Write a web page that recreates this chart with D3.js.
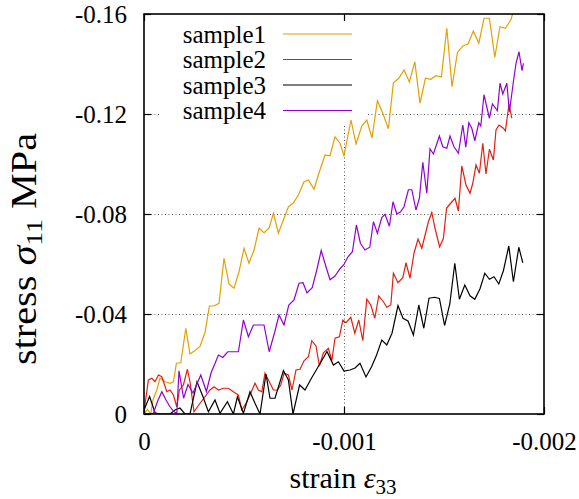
<!DOCTYPE html>
<html>
<head>
<meta charset="utf-8">
<script src="https://cdn.jsdelivr.net/npm/d3@7"></script>
<style>
  html, body { margin: 0; padding: 0; background: #fff; }
  svg { display: block; font-family: 'Liberation Serif', 'Times New Roman', serif; }
</style>
</head>
<body>
<svg id="chart" width="579" height="499"></svg>
<script>
'use strict';

// ---- data (strain, stress in MPa) ----
var seriesNames = ['sample1', 'sample2', 'sample3', 'sample4'];
var seriesColors = ['#e69f00', '#e51e10', '#000000', '#9400d3'];

var xTicks = [0, -0.001, -0.002];
var xTickLabels = ['0', '-0.001', '-0.002'];
var yTicks = [0, -0.04, -0.08, -0.12, -0.16];
var yTickLabels = ['0', '-0.04', '-0.08', '-0.12', '-0.16'];

var sample1Strain = [0, -0.000017, -0.000034, -0.000045, -0.000064, -0.00008, -0.000105, -0.00013,
  -0.000147, -0.000162, -0.000184, -0.000209, -0.00023, -0.000255, -0.00028, -0.000305, -0.000327,
  -0.00035, -0.000375, -0.0004, -0.000425, -0.00045, -0.000475, -0.0005, -0.000525, -0.00055,
  -0.000575, -0.0006, -0.000625, -0.000647, -0.000672, -0.0007, -0.000722, -0.000747, -0.000772,
  -0.0008, -0.000822, -0.00085, -0.000877, -0.000905, -0.00093, -0.000955, -0.00098, -0.001,
  -0.001035, -0.00106, -0.001089, -0.001114, -0.00114, -0.001167, -0.001194, -0.001222, -0.001247,
  -0.001274, -0.0013, -0.001327, -0.001354, -0.00138, -0.001407, -0.001434, -0.00146, -0.001487,
  -0.001514, -0.00154, -0.001567, -0.001594, -0.00162, -0.001647, -0.001674, -0.0017, -0.001727,
  -0.001754, -0.00178, -0.001807, -0.001834, -0.001855];
var sample1Stress = [0, -0.0019, 0, -0.0056, -0.0096, -0.0144, -0.0129, -0.0123, -0.0129, -0.0203,
  -0.0205, -0.0343, -0.024, -0.0254, -0.027, -0.0326, -0.0432, -0.0432, -0.0443, -0.0623, -0.052,
  -0.0503, -0.0569, -0.0663, -0.0603, -0.0656, -0.0743, -0.0725, -0.0743, -0.0803, -0.0723, -0.0783,
  -0.0829, -0.0845, -0.0876, -0.0929, -0.0936, -0.0899, -0.0969, -0.1036, -0.1033, -0.1109, -0.1083,
  -0.1034, -0.1176, -0.108, -0.1152, -0.1176, -0.1104, -0.1253, -0.1203, -0.1141, -0.1325, -0.1343,
  -0.1376, -0.1328, -0.1409, -0.1243, -0.1343, -0.1339, -0.1353, -0.1349, -0.1543, -0.1309, -0.1445,
  -0.1472, -0.148, -0.1532, -0.1483, -0.1583, -0.1583, -0.1427, -0.1549, -0.1543, -0.1576, -0.1632];

var sample2Strain = [0, -0.000022, -0.000039, -0.000055, -0.000072, -0.000089, -0.0001, -0.000114,
  -0.00013, -0.000147, -0.000164, -0.000177, -0.000197, -0.000217, -0.00023, -0.00025, -0.00028,
  -0.000305, -0.00033, -0.00035, -0.000372, -0.000397, -0.000422, -0.000447, -0.000472, -0.000489,
  -0.00051, -0.00053, -0.000555, -0.000572, -0.000589, -0.000605, -0.000622, -0.000647, -0.000667,
  -0.000684, -0.0007, -0.000722, -0.00074, -0.00076, -0.00078, -0.0008, -0.000822, -0.000839,
  -0.00086, -0.000877, -0.000897, -0.000922, -0.000939, -0.000955, -0.000977, -0.000994, -0.00101,
  -0.001034, -0.001054, -0.001074, -0.001094, -0.001114, -0.001134, -0.001154, -0.001174, -0.001197,
  -0.001214, -0.001234, -0.001247, -0.00127, -0.001294, -0.00131, -0.00133, -0.00135, -0.00137,
  -0.001389, -0.001422, -0.001439, -0.001455, -0.001478, -0.001497, -0.001513, -0.00153, -0.001555,
  -0.001572, -0.001589, -0.00161, -0.00163, -0.001644, -0.00166, -0.001677, -0.001694, -0.00171,
  -0.001727, -0.001747, -0.00176, -0.001775, -0.001797, -0.001807, -0.001825, -0.001839];
var sample2Stress = [-0.0009, -0.0136, -0.0143, -0.0129, -0.0156, -0.0149, -0.0123, -0.0089, -0.0096,
  -0.0076, -0.0029, -0.0096, -0.0116, -0.0179, -0.0129, -0.0009, -0.0043, -0.0069, -0.0096, -0.0109,
  -0.0096, -0.0103, -0.0103, -0.0089, -0.0076, -0.0016, -0.0043, -0.0076, -0.0123, -0.0096, -0.0089,
  -0.0163, -0.0136, -0.0096, -0.0096, -0.0116, -0.0163, -0.0156, -0.0096, -0.0176, -0.0179, -0.0213,
  -0.0229, -0.0293, -0.0272, -0.0192, -0.0245, -0.0263, -0.0213, -0.0303, -0.0309, -0.0376, -0.0365,
  -0.0387, -0.0323, -0.0376, -0.0293, -0.0459, -0.0436, -0.0383, -0.0472, -0.0449, -0.0427, -0.0436,
  -0.0563, -0.0525, -0.0545, -0.0605, -0.0543, -0.0643, -0.07, -0.0663, -0.0769, -0.0806, -0.0743,
  -0.0668, -0.0703, -0.0824, -0.084, -0.0863, -0.0812, -0.0992, -0.0916, -0.0883, -0.0923, -0.0996,
  -0.0963, -0.1083, -0.096, -0.1059, -0.1016, -0.1136, -0.1156, -0.1143, -0.1132, -0.1239, -0.1183];

var sample3Strain = [0, -0.000028, -0.000055, -0.00008, -0.000105, -0.00013, -0.000155, -0.00018,
  -0.000205, -0.00023, -0.000265, -0.000295, -0.000322, -0.000355, -0.00038, -0.000417, -0.000447,
  -0.000467, -0.000497, -0.00053, -0.000555, -0.00058, -0.00061, -0.00063, -0.000655, -0.000697,
  -0.000722, -0.000745, -0.000778, -0.000805, -0.000835, -0.000873, -0.000915, -0.000947, -0.000972,
  -0.001, -0.00103, -0.001055, -0.00108, -0.00111, -0.001139, -0.001163, -0.001189, -0.001214,
  -0.00124, -0.00127, -0.001295, -0.00132, -0.001347, -0.001374, -0.001399, -0.001425, -0.001453,
  -0.001477, -0.001503, -0.001529, -0.001554, -0.001577, -0.001604, -0.00163, -0.001654, -0.00168,
  -0.001704, -0.001727, -0.00175, -0.001774, -0.001797, -0.001824, -0.001847, -0.001874, -0.001894];
var sample3Stress = [-0.0016, -0.007, -0.0005, 0, 0, 0, -0.0016, -0.0024, 0, 0, -0.0129, -0.0069,
  -0.0009, -0.0056, -0.0003, -0.0049, 0, -0.0069, -0.0003, -0.0089, -0.0043, 0, -0.016, -0.0063,
  -0.0063, -0.0174, -0.0136, 0, -0.0116, -0.0096, -0.014, -0.0192, -0.025, -0.0196, -0.0209, -0.0172,
  -0.0176, -0.0184, -0.0203, -0.0148, -0.0191, -0.0236, -0.0296, -0.0276, -0.0323, -0.0434, -0.0383,
  -0.0372, -0.0316, -0.0436, -0.0343, -0.0463, -0.0467, -0.0462, -0.0354, -0.044, -0.0603, -0.0459,
  -0.0516, -0.0473, -0.0459, -0.0501, -0.0563, -0.0539, -0.0549, -0.052, -0.0573, -0.0672, -0.0529,
  -0.0667, -0.0605];

var sample4Strain = [0, -0.000047, -0.000067, -0.000089, -0.00011, -0.00013, -0.00015, -0.000164,
  -0.000175, -0.000198, -0.00022, -0.000245, -0.000284, -0.000312, -0.000335, -0.000358, -0.000372,
  -0.000394, -0.000419, -0.000447, -0.000472, -0.000497, -0.000522, -0.000547, -0.000577, -0.0006,
  -0.000626, -0.000653, -0.000675, -0.0007, -0.000724, -0.00075, -0.000775, -0.000795, -0.000815,
  -0.000841, -0.000864, -0.000886, -0.00091, -0.00093, -0.000955, -0.00098, -0.001, -0.00102,
  -0.001042, -0.001062, -0.001082, -0.001105, -0.001129, -0.001147, -0.001167, -0.001189, -0.001205,
  -0.001227, -0.001245, -0.001264, -0.001283, -0.0013, -0.001322, -0.001339, -0.00136, -0.001377,
  -0.001394, -0.001414, -0.00143, -0.001447, -0.001477, -0.001494, -0.001514, -0.00153, -0.00155,
  -0.001572, -0.001594, -0.001609, -0.001624, -0.001639, -0.001654, -0.001674, -0.001684, -0.0017,
  -0.001727, -0.001742, -0.001767, -0.00178, -0.001794, -0.001814, -0.001827, -0.001847, -0.00186,
  -0.001875, -0.00189, -0.001897];
var sample4Stress = [0, -0.0003, -0.0049, -0.0089, -0.0056, -0.0029, -0.0009, -0.0003, -0.0173,
  -0.0063, -0.0118, -0.0084, -0.0156, -0.009, -0.0164, -0.0208, -0.0236, -0.0226, -0.0249, -0.0249,
  -0.0249, -0.0376, -0.0309, -0.0356, -0.0356, -0.0356, -0.0249, -0.0326, -0.0396, -0.0356, -0.0436,
  -0.0456, -0.0523, -0.0525, -0.0484, -0.0505, -0.0576, -0.0654, -0.0589, -0.0537, -0.0552, -0.0581,
  -0.0598, -0.0629, -0.0649, -0.0756, -0.0683, -0.0656, -0.0667, -0.0769, -0.0723, -0.0786, -0.0799,
  -0.0751, -0.0849, -0.08, -0.0809, -0.0829, -0.0897, -0.0897, -0.0816, -0.0863, -0.1007, -0.0883,
  -0.1061, -0.104, -0.1112, -0.1069, -0.1063, -0.1112, -0.1069, -0.1043, -0.1156, -0.1067, -0.1165,
  -0.1143, -0.1093, -0.1165, -0.1152, -0.1277, -0.1183, -0.124, -0.1213, -0.1323, -0.128, -0.1323,
  -0.1209, -0.1329, -0.1403, -0.1449, -0.1373, -0.1403];

var seriesStrain = [sample1Strain, sample2Strain, sample3Strain, sample4Strain];
var seriesStress = [sample1Stress, sample2Stress, sample3Stress, sample4Stress];

// ---- layout ----
var plot = { left: 144, right: 544, top: 14, bottom: 414 };
var tickLen = 7;
var tickFont = 25;
var serif = "'Liberation Serif', 'Times New Roman', serif";

var svg = d3.select('#chart');

var x = d3.scaleLinear().domain([0, -0.002]).range([plot.left, plot.right]);
var y = d3.scaleLinear().domain([0, -0.16]).range([plot.bottom, plot.top]);

svg.append('defs').append('clipPath').attr('id', 'plot-clip')
  .append('rect')
  .attr('x', plot.left).attr('y', plot.top)
  .attr('width', plot.right - plot.left).attr('height', plot.bottom - plot.top);

/**
 * Dotted grid at the inner ticks only (the outer ones sit on the frame).
 */
var grid = svg.append('g').attr('class', 'grid')
  .attr('stroke', '#555').attr('stroke-width', 1).attr('stroke-dasharray', '1,2.5');

grid.selectAll('.gy').data(yTicks.slice(1, -1)).enter().append('line')
  .attr('x1', plot.left).attr('x2', plot.right)
  .attr('y1', function (d) { return y(d) + 0.5; })
  .attr('y2', function (d) { return y(d) + 0.5; });

grid.selectAll('.gx').data(xTicks.slice(1, -1)).enter().append('line')
  .attr('y1', plot.top).attr('y2', plot.bottom)
  .attr('x1', function (d) { return x(d) + 0.5; })
  .attr('x2', function (d) { return x(d) + 0.5; });

// opaque key background (hides the grid behind the legend)
svg.append('rect')
  .attr('x', 159).attr('y', plot.top + 1)
  .attr('width', 207).attr('height', 110)
  .attr('fill', '#fff');

/**
 * One polyline per sample.
 */
var line = d3.line()
  .x(function (d) { return x(d[0]); })
  .y(function (d) { return y(d[1]); });

var lines = svg.append('g').attr('clip-path', 'url(#plot-clip)');

seriesNames.forEach(function (name, i) {
  var pts = seriesStrain[i].map(function (s, j) {
    return [s, seriesStress[i][j]];
  });

  lines.append('path')
    .attr('class', name)
    .attr('d', line(pts))
    .attr('fill', 'none')
    .attr('stroke', seriesColors[i])
    .attr('stroke-width', 1.2)
    .attr('stroke-linejoin', 'miter');
});

/**
 * Axes: inward ticks on all four sides, labels left and bottom.
 */
function styleAxis(g) {
  g.attr('font-family', serif);
  g.select('.domain').remove();
  g.selectAll('.tick line').attr('stroke', '#000').attr('stroke-width', 1.2);
  g.selectAll('.tick text')
    .attr('fill', '#000')
    .attr('font-size', tickFont);
}

svg.append('g')
  .attr('transform', 'translate(' + plot.left + ',0)')
  .call(d3.axisLeft(y).tickValues(yTicks).tickSizeInner(-tickLen).tickSizeOuter(0).tickPadding(17)
    .tickFormat(function (d, i) { return yTickLabels[i]; }))
  .call(styleAxis);

svg.append('g')
  .attr('transform', 'translate(' + plot.right + ',0)')
  .call(d3.axisRight(y).tickValues(yTicks).tickSizeInner(-tickLen).tickSizeOuter(0).tickFormat(''))
  .call(styleAxis);

svg.append('g')
  .attr('transform', 'translate(0,' + plot.bottom + ')')
  .call(d3.axisBottom(x).tickValues(xTicks).tickSizeInner(-tickLen).tickSizeOuter(0).tickPadding(18)
    .tickFormat(function (d, i) { return xTickLabels[i]; }))
  .call(styleAxis);

svg.append('g')
  .attr('transform', 'translate(0,' + plot.top + ')')
  .call(d3.axisTop(x).tickValues(xTicks).tickSizeInner(-tickLen).tickSizeOuter(0).tickFormat(''))
  .call(styleAxis);

// frame
svg.append('rect')
  .attr('x', plot.left).attr('y', plot.top)
  .attr('width', plot.right - plot.left).attr('height', plot.bottom - plot.top)
  .attr('fill', 'none').attr('stroke', '#000').attr('stroke-width', 1.6);

/**
 * Legend: right-aligned names with a short sample line.
 */
var legend = svg.append('g').attr('class', 'legend').attr('font-family', serif);

seriesNames.forEach(function (name, i) {
  var ly = 34 + i * 25.5;

  legend.append('text')
    .attr('x', 266).attr('y', ly + 8.5)
    .attr('text-anchor', 'end')
    .attr('font-size', tickFont)
    .text(name);

  legend.append('line')
    .attr('x1', 283).attr('x2', 352)
    .attr('y1', ly).attr('y2', ly)
    .attr('stroke', seriesColors[i]).attr('stroke-width', 1.2);
});

/**
 * Axis titles with math symbols and subscripts.
 */
var xTitle = svg.append('text')
  .attr('x', 343).attr('y', 488)
  .attr('text-anchor', 'middle')
  .attr('font-family', serif)
  .attr('font-size', 30);
xTitle.append('tspan').text('strain ');
xTitle.append('tspan').attr('font-style', 'italic').text('\u03b5');
xTitle.append('tspan').attr('font-size', 21).attr('dy', 6).text('33');

// the reference's vertical title runs a little longer than its glyph height suggests
var yTitle = svg.append('text')
  .attr('transform', 'translate(36,249) rotate(-90) scale(1.15,1)')
  .attr('text-anchor', 'middle')
  .attr('font-family', serif)
  .attr('font-size', 35);
yTitle.append('tspan').text('stress ');
yTitle.append('tspan').attr('font-style', 'italic').text('\u03c3');
yTitle.append('tspan').attr('font-size', 24).attr('dy', 6).text('11');
yTitle.append('tspan').attr('dy', -6).text(' MPa');
</script>
</body>
</html>
